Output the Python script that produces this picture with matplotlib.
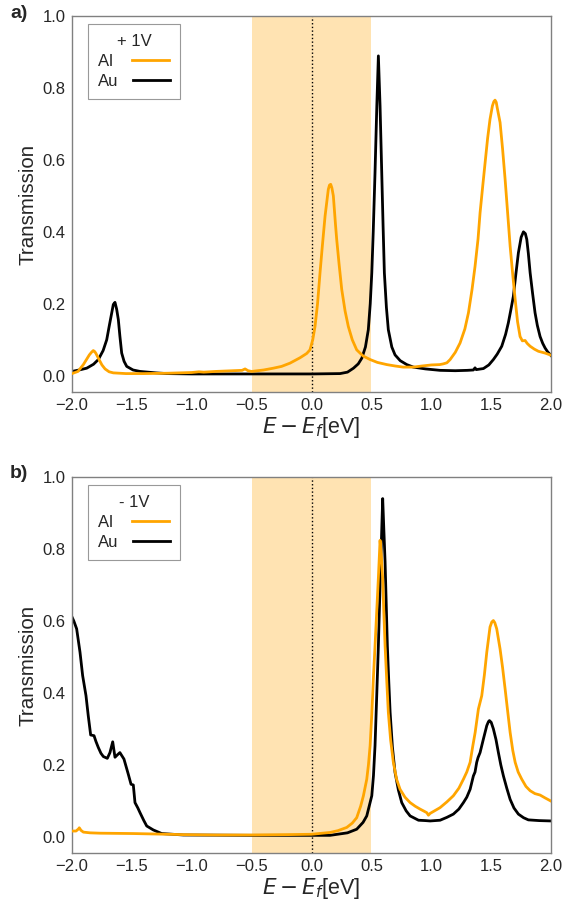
import matplotlib
matplotlib.use("Agg")
import matplotlib.pyplot as plt

plt.rcParams["font.family"] = ["Liberation Sans", "DejaVu Sans"]
plt.rcParams["mathtext.fontset"] = "dejavusans"

# ---- panel a): +1 V bias ----
a_al_E = [-2.0, -1.95, -1.905, -1.855, -1.835, -1.822, -1.81, -1.80, -1.78, -1.75, -1.724, -1.69,
          -1.655, -1.55, -1.40, -1.20, -1.00, -0.94, -0.90, -0.80, -0.653, -0.58,
          -0.555, -0.53, -0.50, -0.40, -0.319, -0.25, -0.18, -0.096, -0.04, -0.013,
          0.01, 0.029, 0.05, 0.071, 0.09, 0.113, 0.14, 0.15, 0.16, 0.17, 0.182, 0.20,
          0.21, 0.23, 0.252, 0.28, 0.307, 0.34, 0.377, 0.43, 0.489, 0.55,
          0.628, 0.70, 0.765, 0.85, 0.92, 1.00, 1.07, 1.10, 1.13, 1.157,
          1.20, 1.24, 1.28, 1.31, 1.34, 1.365, 1.39, 1.407, 1.43, 1.449,
          1.47, 1.49, 1.51, 1.522, 1.532, 1.542, 1.55, 1.574, 1.595, 1.616, 1.64, 1.658,
          1.68, 1.70, 1.72, 1.741, 1.76, 1.783, 1.80, 1.825, 1.86, 1.894,
          1.95, 2.0]
a_al_T = [0.006, 0.012, 0.031, 0.058, 0.066, 0.070, 0.067, 0.062, 0.049, 0.030, 0.019, 0.011,
          0.008, 0.006, 0.006, 0.007, 0.009, 0.011, 0.010, 0.012, 0.014, 0.015,
          0.019, 0.014, 0.012, 0.016, 0.021, 0.026, 0.035, 0.050, 0.062, 0.072,
          0.100, 0.137, 0.200, 0.287, 0.360, 0.444, 0.518, 0.530, 0.532, 0.522, 0.500, 0.420,
          0.379, 0.310, 0.240, 0.180, 0.137, 0.100, 0.072, 0.055, 0.045, 0.037,
          0.031, 0.027, 0.024, 0.024, 0.027, 0.030, 0.031, 0.033, 0.036, 0.045,
          0.065, 0.091, 0.130, 0.175, 0.240, 0.304, 0.380, 0.453, 0.530, 0.592,
          0.660, 0.713, 0.750, 0.762, 0.766, 0.760, 0.745, 0.704, 0.630, 0.546, 0.440, 0.360,
          0.280, 0.212, 0.150, 0.109, 0.097, 0.098, 0.090, 0.082, 0.074, 0.068,
          0.063, 0.057]

a_au_E = [-2.0, -1.94, -1.877, -1.82, -1.78, -1.74, -1.71, -1.688, -1.668, -1.655, -1.641,
          -1.627, -1.613, -1.60, -1.585, -1.565, -1.543, -1.49, -1.432, -1.30, -1.21,
          -1.0, -0.5, 0.0, 0.238, 0.30, 0.35, 0.39, 0.42, 0.45, 0.474,
          0.49, 0.503, 0.515, 0.53, 0.545, 0.558, 0.572, 0.586, 0.597, 0.608,
          0.625, 0.641, 0.67, 0.697, 0.74, 0.795, 0.85, 0.95, 1.073, 1.20,
          1.30, 1.351, 1.365, 1.375, 1.435, 1.48, 1.518, 1.55, 1.588, 1.62,
          1.643, 1.665, 1.685, 1.705, 1.727, 1.75, 1.769, 1.785, 1.797, 1.81,
          1.825, 1.845, 1.866, 1.885, 1.908, 1.93, 1.95, 1.97, 2.0]
a_au_T = [0.012, 0.016, 0.021, 0.032, 0.045, 0.070, 0.100, 0.140, 0.175, 0.198, 0.204,
          0.185, 0.156, 0.110, 0.063, 0.040, 0.026, 0.016, 0.012, 0.008, 0.006,
          0.005, 0.005, 0.005, 0.006, 0.010, 0.021, 0.033, 0.049, 0.080, 0.128,
          0.200, 0.286, 0.400, 0.565, 0.750, 0.889, 0.750, 0.565, 0.420, 0.286,
          0.190, 0.128, 0.080, 0.058, 0.042, 0.031, 0.024, 0.019, 0.015, 0.014,
          0.015, 0.016, 0.022, 0.017, 0.020, 0.030, 0.045, 0.060, 0.082, 0.115,
          0.147, 0.185, 0.221, 0.280, 0.342, 0.385, 0.400, 0.395, 0.379, 0.340,
          0.286, 0.230, 0.175, 0.140, 0.109, 0.090, 0.077, 0.067, 0.056]

# ---- panel b): -1 V bias ----
b_al_E = [-2.0, -1.966, -1.945, -1.939, -1.925, -1.905, -1.85, -1.766, -1.488, -1.2,
          -1.07, -0.8, -0.5, -0.2, 0.0, 0.154, 0.22, 0.294, 0.34, 0.377,
          0.41, 0.433, 0.461, 0.475, 0.489, 0.503, 0.516, 0.53, 0.544, 0.558,
          0.572, 0.583, 0.594, 0.604, 0.614, 0.627, 0.641, 0.66, 0.683, 0.71,
          0.739, 0.78, 0.823, 0.865, 0.906, 0.94, 0.962, 0.976, 0.99, 1.073,
          1.13, 1.184, 1.23, 1.268, 1.296, 1.324, 1.345, 1.366, 1.393, 1.421,
          1.443, 1.463, 1.49, 1.505, 1.518, 1.53, 1.546, 1.574, 1.595, 1.616, 1.637, 1.658,
          1.68, 1.70, 1.725, 1.755, 1.79, 1.825, 1.865, 1.908, 1.95, 2.0]
b_al_T = [0.016, 0.016, 0.022, 0.025, 0.018, 0.013, 0.011, 0.010, 0.009, 0.007,
          0.006, 0.005, 0.005, 0.006, 0.007, 0.012, 0.017, 0.026, 0.038, 0.053,
          0.085, 0.114, 0.160, 0.200, 0.253, 0.340, 0.439, 0.530, 0.625, 0.720,
          0.824, 0.780, 0.717, 0.620, 0.531, 0.440, 0.346, 0.270, 0.207, 0.160,
          0.132, 0.110, 0.095, 0.085, 0.077, 0.071, 0.067, 0.060, 0.065, 0.081,
          0.097, 0.114, 0.135, 0.160, 0.180, 0.207, 0.250, 0.290, 0.355, 0.392,
          0.450, 0.513, 0.583, 0.597, 0.601, 0.595, 0.578, 0.522, 0.470, 0.411, 0.350, 0.290,
          0.240, 0.207, 0.180, 0.160, 0.140, 0.128, 0.120, 0.116, 0.108, 0.099]

b_au_E = [-2.0, -1.985, -1.961, -1.933, -1.911, -1.883, -1.864, -1.844, -1.816, -1.80,
          -1.78, -1.758, -1.738, -1.705, -1.683, -1.66, -1.641, -1.62, -1.60, -1.585,
          -1.566, -1.53, -1.507, -1.488, -1.474, -1.45, -1.432, -1.40, -1.376, -1.321,
          -1.251, -1.07, -0.5, 0.0, 0.154, 0.30, 0.377, 0.43, 0.461, 0.485,
          0.503, 0.517, 0.53, 0.545, 0.558, 0.568, 0.578, 0.594, 0.604, 0.614,
          0.633, 0.645, 0.656, 0.675, 0.697, 0.725, 0.753, 0.79, 0.823, 0.893,
          0.95, 0.99, 1.073, 1.13, 1.184, 1.23, 1.268, 1.296, 1.324, 1.351,
          1.365, 1.379, 1.39, 1.407, 1.435, 1.463, 1.477, 1.485, 1.50, 1.518, 1.54,
          1.56, 1.58, 1.602, 1.63, 1.658, 1.69, 1.727, 1.77, 1.81, 1.9, 2.0]
b_au_T = [0.611, 0.600, 0.578, 0.513, 0.448, 0.392, 0.336, 0.283, 0.281, 0.265,
          0.248, 0.232, 0.223, 0.218, 0.234, 0.264, 0.221, 0.228, 0.234, 0.226,
          0.216, 0.174, 0.146, 0.144, 0.095, 0.080, 0.067, 0.045, 0.030, 0.019,
          0.009, 0.005, 0.004, 0.004, 0.004, 0.011, 0.021, 0.040, 0.058, 0.090,
          0.114, 0.170, 0.253, 0.400, 0.531, 0.650, 0.764, 0.940, 0.850, 0.764,
          0.531, 0.430, 0.346, 0.250, 0.179, 0.130, 0.095, 0.072, 0.058, 0.046,
          0.045, 0.044, 0.046, 0.054, 0.063, 0.077, 0.095, 0.110, 0.132, 0.169,
          0.180, 0.207, 0.220, 0.234, 0.272, 0.309, 0.320, 0.323, 0.318, 0.300, 0.270,
          0.234, 0.200, 0.169, 0.135, 0.104, 0.080, 0.063, 0.053, 0.047, 0.045, 0.044]

panels = [
    ("a)", "+ 1V", (a_al_E, a_al_T), (a_au_E, a_au_T)),
    ("b)", "- 1V", (b_al_E, b_al_T), (b_au_E, b_au_T)),
]

xticks = [-2.0, -1.5, -1.0, -0.5, 0.0, 0.5, 1.0, 1.5, 2.0]
yticks = [0.0, 0.2, 0.4, 0.6, 0.8, 1.0]
bias_window = (-0.5, 0.5)

AL_COLOR = "#FFA500"
AU_COLOR = "black"
TEXT_COLOR = "#262626"

fig = plt.figure(figsize=(5.65, 9.01), dpi=100)
axes_rects = [[0.1274, 0.565, 0.848, 0.4173],
              [0.1274, 0.0533, 0.848, 0.4173]]
label_y = [0.994, 0.484]

for (tag, bias, al, au), rect, ly in zip(panels, axes_rects, label_y):
    ax = fig.add_axes(rect)
    ax.axvspan(*bias_window, color="orange", alpha=0.3, lw=0, zorder=0)
    ax.axvline(0.0, color="black", ls=":", lw=1.0, zorder=1)
    ax.plot(al[0], al[1], color=AL_COLOR, lw=2.0, zorder=3)
    ax.plot(au[0], au[1], color=AU_COLOR, lw=2.0, zorder=2)
    ax.set_xlim(-2.0, 2.0)
    ax.set_ylim(-0.045, 1.0)
    ax.set_xticks(xticks)
    ax.set_yticks(yticks)
    ax.set_xticklabels([f"{t:.1f}".replace("-", "\u2212") for t in xticks])
    ax.set_yticklabels([f"{t:.1f}" for t in yticks])
    ax.tick_params(length=0, labelsize=12, colors=TEXT_COLOR, pad=4.5)
    for sp in ax.spines.values():
        sp.set_color("0.5")
        sp.set_linewidth(1.0)
    ax.set_ylabel("Transmission", fontsize=14.8, color=TEXT_COLOR, labelpad=4)
    ax.set_xlabel(r"$E - E_f$[eV]", fontsize=15.5, color=TEXT_COLOR, labelpad=1)

    al_line, = ax.plot([], [], color=AL_COLOR, lw=2.0)
    au_line, = ax.plot([], [], color=AU_COLOR, lw=2.0)
    leg = ax.legend([al_line, au_line], ["Al ", "Au"],
                    title=bias, loc="upper left", bbox_to_anchor=(0.033, 0.979),
                    borderaxespad=0, markerfirst=False, fancybox=False,
                    framealpha=1, edgecolor="0.6", fontsize=12, title_fontsize=12,
                    handlelength=2.2, handletextpad=0.9, borderpad=0.6,
                    labelspacing=0.3)
    # left-align the entry labels inside the legend column
    for col in leg._legend_handle_box.get_children():
        col.align = "left"
    leg.get_frame().set_linewidth(0.8)
    for t in leg.get_texts():
        t.set_color(TEXT_COLOR)
    leg.get_title().set_color(TEXT_COLOR)
    fig.text(0.018, ly, tag, fontsize=14, fontweight="bold", va="top",
             color=TEXT_COLOR)

fig.savefig("out.png", dpi=100)
